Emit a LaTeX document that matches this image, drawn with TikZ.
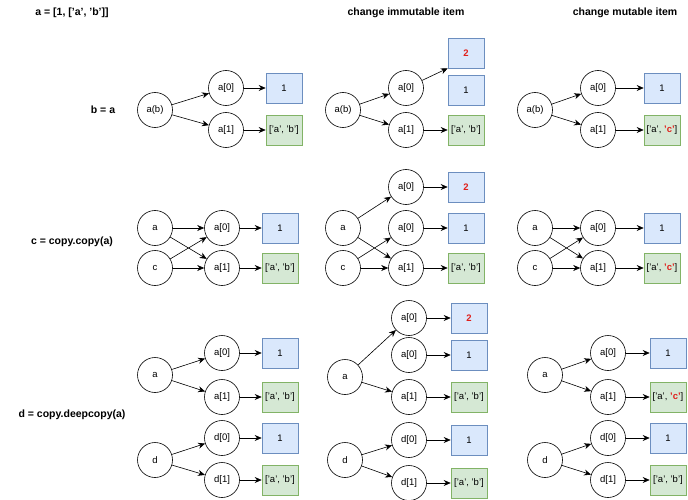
\documentclass[tikz,border=0pt]{standalone}
\usepackage{fontspec}
\setmainfont{Liberation Sans}
\usetikzlibrary{arrows.meta}
\definecolor{bfill}{HTML}{DAE8FC}\definecolor{bdraw}{HTML}{6C8EBF}
\definecolor{gfill}{HTML}{D5E8D4}\definecolor{gdraw}{HTML}{82B366}
\definecolor{red2}{HTML}{E0201B}
\begin{document}
\begin{tikzpicture}[x=1pt,y=-1pt,font=\fontsize{9.5}{11}\selectfont,
 c/.style={circle,draw,semithick,minimum size=35pt,inner sep=0pt},
 bb/.style={draw=bdraw,fill=bfill,semithick,minimum width=36pt,minimum height=30pt,inner sep=0pt},
 gb/.style={draw=gdraw,fill=gfill,semithick,minimum width=36pt,minimum height=30pt,inner sep=0pt},
 hd/.style={font=\fontsize{10.5}{12}\selectfont\bfseries},
 ar/.style={-{Stealth[length=7pt,width=6pt]},semithick}]
\useasboundingbox (0,0) rectangle (688,500);
\newcommand{\rc}{\textcolor{red2}{\textbf{'c'}}}
\node[hd] (h0) at (72,13) {a = [1, ['a', 'b']]};
\node[hd] (h1) at (406,13) {change immutable item};
\node[hd] (h2) at (625,13) {change mutable item};
\node[hd] (l1) at (103,110) {b = a};
\node[hd] (l2) at (72,242) {c = copy.copy(a)};
\node[hd] (l3) at (72,415) {d = copy.deepcopy(a)};
% row 1 col 1
\node[c] (r1a) at (155,110) {a(b)};
\node[c] (r1a0) at (226,88) {a[0]};
\node[c] (r1a1) at (226,130) {a[1]};
\node[bb] (r1b0) at (284,88) {1};
\node[gb] (r1b1) at (284,130) {['a', 'b']};
\draw[ar] (r1a)--(r1a0); \draw[ar] (r1a)--(r1a1);
\draw[ar] (r1a0)--(r1b0); \draw[ar] (r1a1)--(r1b1);
% row1 col2
\node[c] (s1a) at (343,110) {a(b)};
\node[c] (s1a0) at (406,88) {a[0]};
\node[c] (s1a1) at (406,130) {a[1]};
\node[bb] (s1b2) at (466,53) {\textcolor{red2}{\textbf{2}}};
\node[bb] (s1b0) at (466,90) {1};
\node[gb] (s1b1) at (466,130) {['a', 'b']};
\draw[ar] (s1a)--(s1a0); \draw[ar] (s1a)--(s1a1);
\draw[ar] (s1a0)--(s1b2.south west); \draw[ar] (s1a1)--(s1b1);
% row1 col3
\node[c] (t1a) at (535,110) {a(b)};
\node[c] (t1a0) at (598,88) {a[0]};
\node[c] (t1a1) at (598,130) {a[1]};
\node[bb] (t1b0) at (662,88) {1};
\node[gb] (t1b1) at (662,130) {['a', \rc]};
\draw[ar] (t1a)--(t1a0); \draw[ar] (t1a)--(t1a1);
\draw[ar] (t1a0)--(t1b0); \draw[ar] (t1a1)--(t1b1);
% row2 col1
\node[c] (r2a) at (155,228) {a};
\node[c] (r2c) at (155,268) {c};
\node[c] (r2a0) at (222,228) {a[0]};
\node[c] (r2a1) at (222,268) {a[1]};
\node[bb] (r2b0) at (280,228) {1};
\node[gb] (r2b1) at (280,268) {['a', 'b']};
\draw[ar] (r2a)--(r2a0); \draw[ar] (r2a)--(r2a1);
\draw[ar] (r2c)--(r2a0); \draw[ar] (r2c)--(r2a1);
\draw[ar] (r2a0)--(r2b0); \draw[ar] (r2a1)--(r2b1);
% row2 col2
\node[c] (s2a) at (343,228) {a};
\node[c] (s2c) at (343,268) {c};
\node[c] (s2t) at (406,187) {a[0]};
\node[c] (s2a0) at (406,228) {a[0]};
\node[c] (s2a1) at (406,268) {a[1]};
\node[bb] (s2b2) at (466,187) {\textcolor{red2}{\textbf{2}}};
\node[bb] (s2b0) at (466,228) {1};
\node[gb] (s2b1) at (466,268) {['a', 'b']};
\draw[ar] (s2a)--(s2t); \draw[ar] (s2a)--(s2a1);
\draw[ar] (s2c)--(s2a0); \draw[ar] (s2c)--(s2a1);
\draw[ar] (s2t)--(s2b2); \draw[ar] (s2a0)--(s2b0); \draw[ar] (s2a1)--(s2b1);
% row2 col3
\node[c] (t2a) at (535,228) {a};
\node[c] (t2c) at (535,268) {c};
\node[c] (t2a0) at (598,228) {a[0]};
\node[c] (t2a1) at (598,268) {a[1]};
\node[bb] (t2b0) at (662,228) {1};
\node[gb] (t2b1) at (662,268) {['a', \rc]};
\draw[ar] (t2a)--(t2a0); \draw[ar] (t2a)--(t2a1);
\draw[ar] (t2c)--(t2a0); \draw[ar] (t2c)--(t2a1);
\draw[ar] (t2a0)--(t2b0); \draw[ar] (t2a1)--(t2b1);
% row3 col1
\node[c] (r3a) at (155,375) {a};
\node[c] (r3a0) at (222,353) {a[0]};
\node[c] (r3a1) at (222,397) {a[1]};
\node[bb] (r3b0) at (280,353) {1};
\node[gb] (r3b1) at (280,397) {['a', 'b']};
\node[c] (r3d) at (155,460) {d};
\node[c] (r3d0) at (222,438) {d[0]};
\node[c] (r3d1) at (222,480) {d[1]};
\node[bb] (r3e0) at (280,438) {1};
\node[gb] (r3e1) at (280,480) {['a', 'b']};
\draw[ar] (r3a)--(r3a0); \draw[ar] (r3a)--(r3a1);
\draw[ar] (r3a0)--(r3b0); \draw[ar] (r3a1)--(r3b1);
\draw[ar] (r3d)--(r3d0); \draw[ar] (r3d)--(r3d1);
\draw[ar] (r3d0)--(r3e0); \draw[ar] (r3d1)--(r3e1);
% row3 col2
\node[c] (s3a) at (345,377) {a};
\node[c] (s3t) at (409,318) {a[0]};
\node[c] (s3a0) at (409,355) {a[0]};
\node[c] (s3a1) at (409,397) {a[1]};
\node[bb] (s3b2) at (469,318) {\textcolor{red2}{\textbf{2}}};
\node[bb] (s3b0) at (469,355) {1};
\node[gb] (s3b1) at (469,397) {['a', 'b']};
\node[c] (s3d) at (345,460) {d};
\node[c] (s3d0) at (409,440) {d[0]};
\node[c] (s3d1) at (409,483) {d[1]};
\node[bb] (s3e0) at (469,440) {1};
\node[gb] (s3e1) at (469,483) {['a', 'b']};
\draw[ar] (s3a)--(s3t); \draw[ar] (s3a)--(s3a1);
\draw[ar] (s3t)--(s3b2); \draw[ar] (s3a0)--(s3b0); \draw[ar] (s3a1)--(s3b1);
\draw[ar] (s3d)--(s3d0); \draw[ar] (s3d)--(s3d1);
\draw[ar] (s3d0)--(s3e0); \draw[ar] (s3d1)--(s3e1);
% row3 col3
\node[c] (t3a) at (545,375) {a};
\node[c] (t3a0) at (608,353) {a[0]};
\node[c] (t3a1) at (608,397) {a[1]};
\node[bb] (t3b0) at (668,353) {1};
\node[gb] (t3b1) at (668,397) {['a', \rc]};
\node[c] (t3d) at (545,460) {d};
\node[c] (t3d0) at (608,438) {d[0]};
\node[c] (t3d1) at (608,480) {d[1]};
\node[bb] (t3e0) at (668,438) {1};
\node[gb] (t3e1) at (668,480) {['a', 'b']};
\draw[ar] (t3a)--(t3a0); \draw[ar] (t3a)--(t3a1);
\draw[ar] (t3a0)--(t3b0); \draw[ar] (t3a1)--(t3b1);
\draw[ar] (t3d)--(t3d0); \draw[ar] (t3d)--(t3d1);
\draw[ar] (t3d0)--(t3e0); \draw[ar] (t3d1)--(t3e1);
\end{tikzpicture}
\end{document}
